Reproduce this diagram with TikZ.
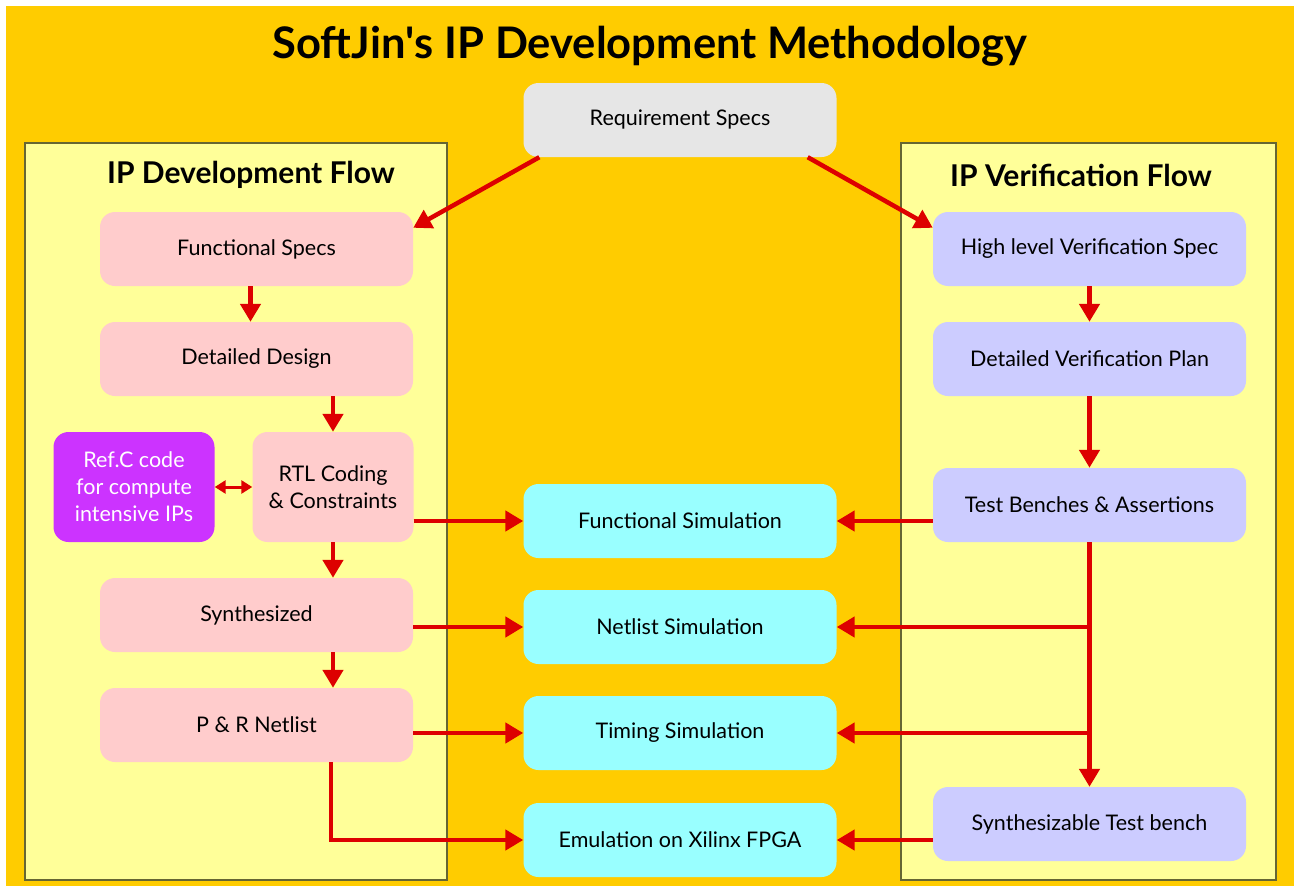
\documentclass[tikz,border=0pt]{standalone}
\usepackage{fontspec}
\setmainfont{Lato}
\usetikzlibrary{arrows.meta,positioning}
\definecolor{bgorange}{HTML}{FFCC00}
\definecolor{panelyellow}{HTML}{FFFF99}
\definecolor{paneledge}{HTML}{666633}
\definecolor{devpink}{HTML}{FFCCCC}
\definecolor{verlilac}{HTML}{CCCCFF}
\definecolor{simcyan}{HTML}{99FFFF}
\definecolor{reqgray}{HTML}{E6E6E6}
\definecolor{refpurple}{HTML}{CC33FF}
\definecolor{flowred}{HTML}{DD0000}
\tikzset{
  block/.style={rounded corners=15pt, inner sep=0pt, align=center,
    font=\fontsize{21.5}{27}\selectfont},
  stdbox/.style={block, minimum width=313pt, minimum height=74pt},
  tallbox/.style={block, minimum width=161pt, minimum height=110pt},
  devbox/.style={fill=devpink},
  verbox/.style={fill=verlilac},
  simbox/.style={fill=simcyan},
  flow/.style={draw=flowred, line width=4.5pt, -{Triangle[length=18pt,width=20pt]}},
  panel/.style={fill=panelyellow, draw=paneledge, line width=1.5pt}
}
\newcommand{\newBlock}[4]{\node[#3](#1) at (#4){#2};}
\newcommand{\newFlow}[3]{\draw[flow,#3] #1 -- #2;}

\begin{document}
\begin{tikzpicture}[
    % pixel grid of the page, y downwards
    x=1pt, y=-1pt
    ]
    \useasboundingbox (0,0) rectangle (1294,886);
    \fill[bgorange] (6,6) rectangle (1294,886);

    % the two flow panels
    \draw[panel] (25,143) rectangle (447,880);
    \draw[panel] (901,143) rectangle (1276,880);

    \node[font=\fontsize{43.5}{48}\selectfont\bfseries] (title) at (650,46)
      {SoftJin\textquotesingle s IP Development Methodology};
    \node[font=\fontsize{30}{34}\selectfont\bfseries] (devhead) at (251,175) {IP Development Flow};
    \node[font=\fontsize{30}{34}\selectfont\bfseries] (verhead) at (1081,175) {IP Verification Flow};

    \newBlock{req}{Requirement Specs}{stdbox,fill=reqgray}{680,120}

    % development flow
    \newBlock{fspec}{Functional Specs}{stdbox,devbox}{256.5,249}
    \newBlock{ddesign}{Detailed Design}{stdbox,devbox}{256.5,359}
    \newBlock{rtl}{RTL Coding\\\& Constraints}{tallbox,devbox}{333,487}
    \newBlock{refc}{Ref.C code\\for compute\\intensive IPs}{tallbox,fill=refpurple,text=white}{134,487}
    \newBlock{synth}{Synthesized}{stdbox,devbox}{256.5,615}
    \newBlock{pnr}{P \& R Netlist}{stdbox,devbox}{256.5,725}

    % simulations
    \newBlock{funcsim}{Functional Simulation}{stdbox,simbox}{680,521}
    \newBlock{netsim}{Netlist Simulation}{stdbox,simbox}{680,627}
    \newBlock{timsim}{Timing Simulation}{stdbox,simbox}{680,733}
    \newBlock{emul}{Emulation on Xilinx FPGA}{stdbox,simbox}{680,840}

    % verification flow
    \newBlock{hlspec}{High level Verification Spec}{stdbox,verbox}{1089.5,249}
    \newBlock{dvplan}{Detailed Verification Plan}{stdbox,verbox}{1089.5,359}
    \newBlock{tbench}{Test Benches \& Assertions}{stdbox,verbox}{1089.5,505}
    \newBlock{syntb}{Synthesizable Test bench}{stdbox,verbox}{1089.5,824}

    \newFlow{([xshift=16pt]req.south west)}{([yshift=-16pt]fspec.north east)}{}
    \newFlow{([xshift=-29pt]req.south east)}{([yshift=-16pt]hlspec.north west)}{}

    \newFlow{([xshift=-6pt]fspec.south)}{([xshift=-6pt]ddesign.north)}{}
    \newFlow{(rtl.north |- ddesign.south)}{(rtl.north)}{}
    \newFlow{(rtl.south)}{(rtl.south |- synth.north)}{}
    \newFlow{(rtl.south |- synth.south)}{(rtl.south |- pnr.north)}{}
    \draw[draw=flowred, line width=3pt,
      {Triangle[length=11pt,width=13pt]}-{Triangle[length=11pt,width=13pt]}]
      (refc.east) -- (rtl.west);

    \newFlow{(funcsim.west -| rtl.east)}{(funcsim.west)}{}
    \newFlow{(netsim.west -| synth.east)}{(netsim.west)}{}
    \newFlow{(timsim.west -| pnr.east)}{(timsim.west)}{}
    \draw[flow] ([xshift=-2pt]pnr.south -| rtl.south) |- (emul.west);

    \newFlow{(hlspec.south)}{(dvplan.north)}{}
    \newFlow{(dvplan.south)}{(tbench.north)}{}
    \newFlow{(funcsim.east -| tbench.west)}{(funcsim.east)}{}
    \newFlow{(tbench.south)}{(syntb.north)}{}
    \newFlow{(tbench.south |- netsim.east)}{(netsim.east)}{}
    \newFlow{(tbench.south |- timsim.east)}{(timsim.east)}{}
    \newFlow{(emul.east -| syntb.west)}{(emul.east)}{}
  \end{tikzpicture}
\end{document}
